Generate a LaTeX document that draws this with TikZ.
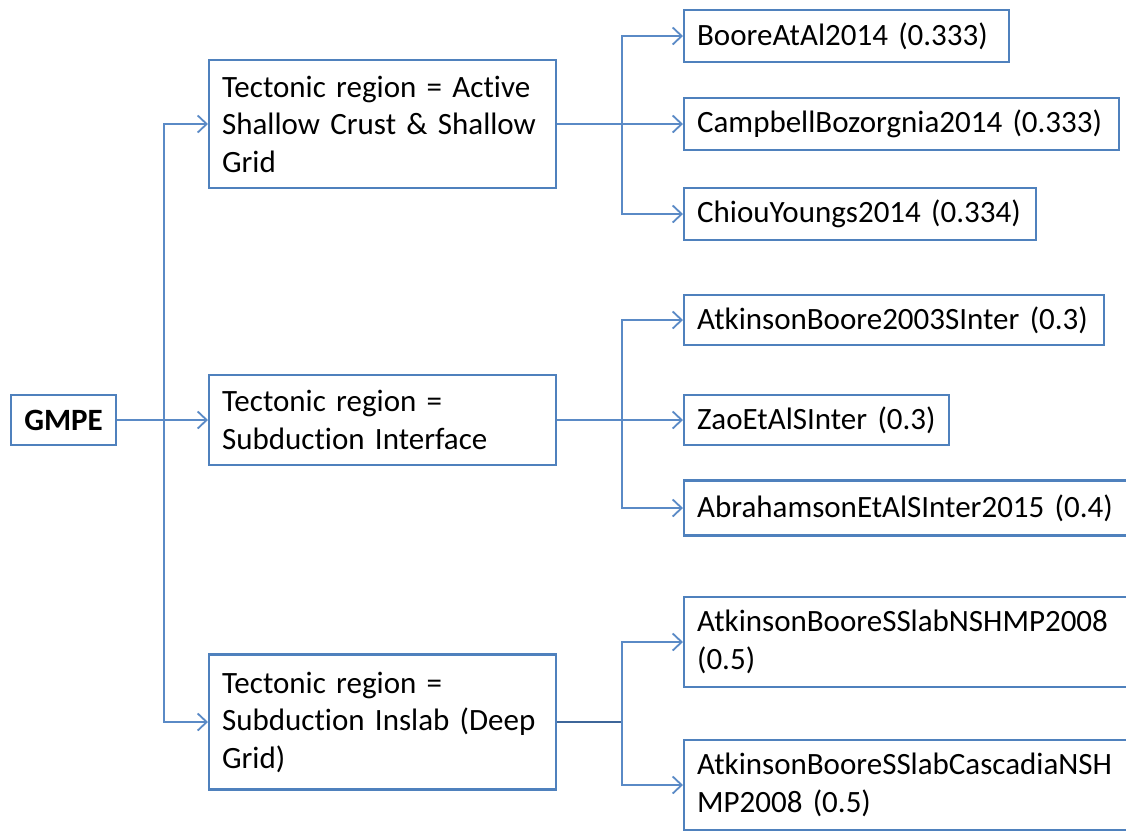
\documentclass[tikz,border=0pt]{standalone}
\usepackage{fontspec}
\setmainfont[Ligatures={NoCommon}]{Carlito}
\usetikzlibrary{arrows.meta,calc}
\definecolor{boxblue}{HTML}{4F81BD}
\definecolor{linkblue}{HTML}{5A8AC6}
\definecolor{darkblue}{HTML}{3D6699}
\newcommand{\boxfont}{\fontsize{31}{37.5}\selectfont\spaceskip=0.17em\relax}
\begin{document}
\begin{tikzpicture}[x=1pt,y=1pt,
  box/.style={draw=boxblue,line width=2.2pt,fill=white,rectangle,anchor=west,
    inner xsep=13pt,inner ysep=0pt,align=left,
    font=\boxfont},
  conn/.style={draw=linkblue,line width=1.8pt},
  arr/.style={conn,-{Straight Barb[length=9pt,width=17pt,line width=1.8pt]}},
]
\useasboundingbox (0,0) rectangle (1126,-831);

% root
\node[box,align=center,inner xsep=0pt,minimum width=105pt,minimum height=50pt,
  font=\boxfont\bfseries] (g) at (10,-420) {GMPE};

% level 1
\node[box,text width=321pt,minimum height=128pt] (r1) at (208,-124)
  {Tectonic region = Active\\Shallow Crust \& Shallow\\Grid};
\node[box,text width=321pt,minimum height=90pt] (r2) at (208,-420)
  {Tectonic region =\\Subduction Interface};
\node[box,text width=321pt,minimum height=135pt] (r3) at (208,-722)
  {Tectonic region =\\Subduction Inslab (Deep\\Grid)};

% level 2
\node[box,text width=299pt,minimum height=52pt] (b1) at (683,-36) {BooreAtAl2014 (0.333)};
\node[box,text width=409pt,minimum height=52pt] (b2) at (683,-124) {CampbellBozorgnia2014 (0.333)};
\node[box,text width=326pt,minimum height=52pt] (b3) at (683,-214) {ChiouYoungs2014 (0.334)};
\node[box,text width=394pt,minimum height=50pt] (c1) at (683,-320) {AtkinsonBoore2003SInter (0.3)};
\node[box,text width=239pt,minimum height=50pt] (c2) at (683,-420) {ZaoEtAlSInter (0.3)};
\node[box,text width=434pt,minimum height=55pt] (c3) at (683,-508) {AbrahamsonEtAlSInter2015 (0.4)};
\node[box,text width=434pt,minimum height=90pt] (d1) at (683,-642) {AtkinsonBooreSSlabNSHMP2008\\(0.5)};
\node[box,text width=434pt,minimum height=90pt] (d2) at (683,-785) {AtkinsonBooreSSlabCascadiaNSH\\MP2008 (0.5)};

% trunk
\path (g.east) ++(47,0) coordinate (t);
\draw[arr] (g.east) -- (r2.west);
\draw[arr] (t) |- (r1.west);
\draw[arr] (t) |- (r3.west);

% branches
\path (r1.east) ++(65,0) coordinate (k1);
\draw[conn] (r1.east) -- (k1);
\draw[arr] (k1) |- (b1.west);
\draw[arr] (k1) |- (b2.west);
\draw[arr] (k1) |- (b3.west);

\path (r2.east) ++(65,0) coordinate (k2);
\draw[conn] (r2.east) -- (k2);
\draw[arr] (k2) |- (c1.west);
\draw[arr] (k2) |- (c2.west);
\draw[arr] (k2) |- (c3.west);

\path (r3.east) ++(65,0) coordinate (k3);
\draw[conn,draw=darkblue] (r3.east) -- (k3);
\draw[arr] (k3) |- (d1.west);
\draw[arr] (k3) |- (d2.west);
\end{tikzpicture}
\end{document}
